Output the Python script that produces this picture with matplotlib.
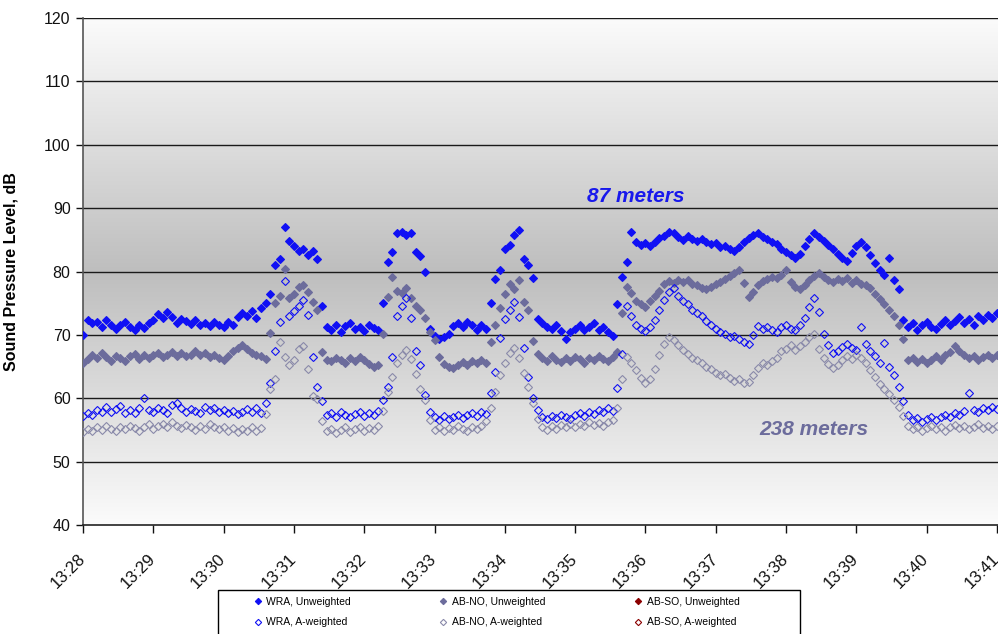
import numpy as np
import matplotlib
matplotlib.use('Agg')
import matplotlib.pyplot as plt
from matplotlib.patches import Rectangle
from matplotlib.lines import Line2D
from matplotlib.transforms import ScaledTranslation

plt.rcParams['font.family'] = ['Liberation Sans', 'DejaVu Sans']

# one reading every 4 seconds from 13:28:00
step_sec = 4
tick_labels = ['13:28', '13:29', '13:30', '13:31', '13:32', '13:33', '13:34',
               '13:35', '13:36', '13:37', '13:38', '13:39', '13:40', '13:41']

wra_unw = [
    70.0, 72.3, 71.8, 72.1, 71.2, 72.4, 71.6, 70.9, 71.5, 72.0, 71.3, 70.8, 71.6, 71.1, 71.9,
    72.4, 73.3, 72.6, 73.6, 72.8, 71.9, 72.5, 72.2, 71.7, 72.3, 71.6, 71.9, 71.4, 72.1, 71.5,
    71.3, 72.0, 71.6, 72.8, 73.4, 72.9, 73.7, 72.6, 74.2,
    75.0, 76.5, 81.0, 82.0, 87.0, 84.8, 84.0, 83.2, 83.5, 82.6, 83.3, 82.0, 74.5,
    71.2, 70.8, 71.6, 70.5, 71.4, 71.9, 70.9, 71.3, 70.6, 71.5, 71.1, 70.7,
    75.0, 81.5, 83.0, 86.0, 86.3, 85.8, 86.1, 83.0, 82.5, 80.0,
    71.0, 69.8, 69.3, 69.6, 70.2, 71.4, 71.9, 71.2, 72.0, 71.5, 70.8, 71.6, 70.9,
    75.0, 78.8, 80.3, 83.5, 84.2, 85.8, 86.6, 82.0, 81.0, 79.0, 72.5,
    71.8, 71.3, 70.9, 71.5, 70.6, 69.4, 70.4, 70.9, 71.6, 70.8, 71.3, 71.9, 70.7, 71.2, 70.5, 69.8,
    74.8, 79.2, 81.5, 86.3, 84.6, 84.2, 84.5, 84.0, 84.6, 85.3, 85.6, 86.2, 86.0, 85.4, 84.9, 85.6, 85.2,
    84.8, 85.1, 84.7, 84.3, 84.5, 83.9, 84.1, 83.6, 83.3, 83.8, 84.6, 85.3, 85.8, 86.0, 85.5,
    85.1, 84.6, 84.3, 83.6, 83.0, 82.6, 82.1, 82.8, 84.0, 85.2, 86.1, 85.4, 84.8, 84.2, 83.5,
    82.8, 82.2, 81.6, 82.9, 84.0, 84.6, 83.8, 82.6, 81.3, 80.2, 79.5, 82.1, 78.6, 77.2, 72.4,
    71.2, 71.9, 70.8, 71.6, 72.0, 71.3, 70.9, 71.7, 72.4, 71.5, 72.2, 72.8, 71.9, 72.5, 71.6,
    72.9, 72.3, 73.1, 72.6, 73.4,
]

abno_unw = [
    65.6, 66.2, 66.8, 66.4, 67.1, 66.5, 65.9, 66.7, 66.3, 65.8, 66.6, 67.0, 66.2, 66.9, 66.4,
    66.8, 67.2, 66.5, 66.9, 67.3, 66.7, 67.1, 66.6, 66.9, 67.4, 66.8, 67.2, 66.5, 66.9, 66.3,
    66.1, 66.7, 67.4, 68.0, 68.4, 67.8, 67.2, 66.9, 66.6,
    66.2, 70.3, 75.0, 76.2, 80.4, 75.8, 76.5, 77.6, 77.9, 76.8, 75.2, 74.0, 67.3,
    66.1, 65.8, 66.4, 66.0, 65.6, 66.3, 65.9, 66.5, 66.0, 65.4, 64.9, 65.3,
    70.2, 76.0, 79.2, 77.0, 76.6, 77.4, 75.8, 74.6, 74.0, 72.6, 70.5, 69.2,
    66.5, 65.4, 65.0, 64.8, 65.3, 65.7, 65.2, 65.8, 65.5, 66.0, 65.6,
    68.9, 71.5, 74.2, 76.5, 78.0, 77.3, 78.6, 75.2, 74.0, 69.0, 67.0,
    66.4, 65.9, 66.6, 66.1, 65.7, 66.3, 65.8, 66.5, 66.2, 65.6, 66.4, 66.0, 66.7, 66.2, 65.9, 66.5,
    67.3, 73.5, 77.5, 76.6, 75.4, 74.8, 74.4, 75.3, 76.2, 77.0, 78.0, 78.5, 78.2, 78.7, 78.3, 78.6, 78.0,
    77.8, 77.4, 77.2, 77.6, 78.0, 78.4, 78.8, 79.3, 79.8, 80.2, 78.2, 76.0, 76.8, 77.9, 78.5,
    78.8, 79.1, 78.9, 79.4, 80.2, 78.4, 77.5, 77.3, 77.8, 78.6, 79.3, 79.8, 79.2, 78.7, 78.3,
    78.8, 78.5, 78.9, 78.2, 78.6, 78.0, 77.8, 77.4, 76.5, 75.6, 74.8, 73.9, 73.0, 71.6, 69.4,
    66.0, 66.4, 65.7, 66.2, 65.5, 66.1, 66.6, 66.0, 66.8, 67.3, 68.2, 67.5, 66.9, 66.3, 66.7,
    66.1, 66.5, 66.9, 66.4, 66.8,
]

wra_aw = [
    57.2, 57.6, 57.4, 58.1, 57.8, 58.6, 57.9, 58.3, 58.8, 57.7, 58.2, 57.6, 58.4, 60.0, 58.1,
    57.9, 58.5, 58.2, 57.6, 58.9, 59.2, 58.4, 57.8, 58.3, 58.0, 57.7, 58.6, 58.1, 58.4, 57.9,
    58.2, 57.6, 58.0, 57.5, 57.9, 58.3, 57.8, 58.5, 57.7,
    59.3, 62.4, 67.5, 72.0, 78.5, 73.0, 73.8, 74.5, 75.5, 73.2, 66.5, 61.8, 59.5,
    57.3, 57.6, 57.1, 57.8, 57.4, 57.0, 57.5, 57.9, 57.2, 57.6, 57.3, 58.0,
    59.7, 61.8, 66.5, 73.0, 74.5, 75.8, 72.6, 67.5, 65.2, 60.5, 57.8,
    57.0, 56.6, 57.2, 56.8, 57.1, 57.4, 56.9, 57.3, 57.6, 57.2, 57.8, 57.5,
    60.8, 64.2, 69.5, 72.5, 74.0, 75.2, 72.8, 68.0, 63.4, 60.0, 58.2,
    57.0, 56.7, 57.2, 56.9, 57.4, 57.1, 56.8, 57.3, 57.6, 57.2, 57.8, 57.5, 58.1, 57.9, 58.4, 58.0,
    61.6, 67.0, 74.5, 73.0, 71.6, 71.0, 70.6, 71.2, 72.4, 74.0, 75.5, 76.8, 77.4, 76.2, 75.4, 74.8, 74.0,
    73.4, 73.0, 72.2, 71.6, 71.0, 70.4, 70.1, 69.6, 69.9, 69.4, 68.8, 68.6, 70.0, 71.4, 71.0,
    71.3, 70.8, 70.5, 71.2, 71.5, 71.0, 70.7, 71.6, 72.6, 74.4, 75.8, 73.6, 70.2, 68.4, 67.2,
    67.5, 68.1, 68.6, 68.0, 67.6, 71.3, 68.5, 67.4, 66.6, 65.6, 68.7, 65.0, 63.6, 61.8, 59.6,
    57.4, 56.5, 56.9, 56.3, 56.7, 57.0, 56.6, 57.1, 57.4, 57.0, 57.6, 57.3, 58.0, 60.8, 58.2,
    57.8, 58.4, 58.1, 58.6, 58.3,
]

abno_aw = [
    54.6, 55.1, 54.8, 55.4, 55.0, 55.6, 55.2, 54.9, 55.5, 55.1, 55.7, 55.3, 54.8, 55.4, 55.9,
    55.2, 55.6, 55.9, 55.4, 56.2, 55.7, 55.3, 55.8, 55.5, 55.0, 55.6, 55.2, 55.9, 55.4, 55.1,
    55.5, 54.9, 55.3, 54.7, 55.2, 54.8, 55.4, 54.9, 55.3,
    57.5, 61.5, 63.0, 68.8, 66.5, 65.2, 66.0, 67.8, 68.2, 64.6, 60.4, 59.9, 56.4,
    54.8, 55.2, 54.5, 55.0, 55.4, 54.7, 55.1, 55.5, 54.9, 55.3, 55.0, 55.6,
    58.0, 61.0, 63.4, 65.5, 66.8, 67.6, 66.2, 63.8, 61.5, 59.8, 56.5,
    55.0, 55.4, 54.8, 55.3, 55.0, 55.6, 55.2, 54.9, 55.5, 55.1, 55.7, 56.4,
    58.5, 61.0, 63.6, 65.5, 67.2, 68.0, 66.4, 64.0, 61.8, 59.2, 56.8,
    55.4, 55.0, 55.6, 55.2, 55.8, 55.4, 55.9, 55.5, 56.0, 55.6, 56.2, 55.8, 56.1, 55.7, 56.3, 56.6,
    58.5, 63.0, 66.5, 65.5, 64.4, 63.2, 62.4, 63.0, 64.6, 66.8, 68.6, 69.6, 69.2, 68.4, 67.6, 67.0, 66.4,
    66.0, 65.6, 65.0, 64.6, 64.0, 63.6, 63.8, 63.2, 62.8, 63.0, 62.4, 62.6, 63.6, 64.8, 65.6,
    65.2, 65.9, 66.4, 67.4, 67.8, 68.4, 67.6, 68.2, 68.9, 69.6, 70.2, 67.8, 66.4, 65.4, 64.8,
    65.2, 66.0, 66.6, 66.2, 66.8, 66.4, 65.6, 64.4, 63.4, 62.2, 61.4, 60.6, 59.8, 58.6, 57.2,
    55.6, 55.1, 55.4, 54.8, 55.3, 55.7, 55.2, 55.5, 54.9, 55.4, 55.8, 55.3, 55.6, 55.1, 55.5,
    55.9, 55.3, 55.7, 55.2, 55.6,
]

# AB-SO has no readings in the plotted window (legend only)
abso_unw = []
abso_aw = []

lengths = {len(wra_unw), len(abno_unw), len(wra_aw), len(abno_aw)}
assert len(lengths) == 1, (len(wra_unw), len(abno_unw), len(wra_aw), len(abno_aw))

def minutes(vals):
    return np.arange(len(vals)) * step_sec / 60.0

fig = plt.figure(figsize=(9.98, 6.34), dpi=100)
ax = fig.add_axes([83 / 998, 109 / 634, 915 / 998, 507 / 634])

# grey band gradient behind the plot area
frac = np.linspace(0, 1, 256)
shade = 0.985 - 0.24 * (1 - np.abs(frac - 0.5) * 2)
grad = np.dstack([shade, shade, shade]).reshape(256, 1, 3)
ax.imshow(grad, extent=[0, 1, 0, 1], transform=ax.transAxes, aspect='auto',
          origin='lower', zorder=0)

blue = '#1010f4'
slate = '#6c6c9c'
slate_light = '#8a8aaa'
red = '#8b0000'
ms = 4.0

series = [
    (wra_unw, 'WRA, Unweighted', blue, True),
    (abno_unw, 'AB-NO, Unweighted', slate, True),
    (abso_unw, 'AB-SO, Unweighted', red, True),
    (wra_aw, 'WRA, A-weighted', blue, False),
    (abno_aw, 'AB-NO, A-weighted', slate_light, False),
    (abso_aw, 'AB-SO, A-weighted', red, False),
]
handles = {}
for vals, label, col, filled in series:
    h, = ax.plot(minutes(vals), vals, linestyle='none', marker='D', markersize=ms,
                 markerfacecolor=col if filled else 'none', markeredgecolor=col,
                 markeredgewidth=0.8, label=label, zorder=3)
    handles[label] = h

ax.set_xlim(0, 13.015)
ax.set_ylim(40, 120)
ax.set_yticks(range(40, 121, 10))
for yv in range(50, 121, 10):
    ax.axhline(yv, color='#1a1a1a', linewidth=1.0, zorder=1)
ax.set_xticks(range(len(tick_labels)))
ax.set_xticklabels(tick_labels, rotation=45, ha='right', va='top', rotation_mode='anchor')
ax.tick_params(axis='x', direction='out', length=6, width=1, pad=13, labelsize=12, colors='#111111')
ax.tick_params(axis='y', direction='out', length=5, width=1, pad=4, labelsize=11.5, colors='#111111')
for lab in ax.get_xticklabels():
    lab.set_transform(lab.get_transform() + ScaledTranslation(-4 / 72, 0, fig.dpi_scale_trans))

ax.spines['right'].set_visible(False)
ax.spines['top'].set_visible(False)
ax.spines['left'].set_color('#555555')
ax.spines['left'].set_linewidth(1.2)
ax.spines['bottom'].set_color('#222222')
ax.spines['bottom'].set_linewidth(1.2)

ax.set_ylabel('Sound Pressure Level, dB', fontsize=11.5, fontweight='bold')
ax.yaxis.set_label_coords(-0.071, 0.5)

ax.text(7.866, 91.9, '87 meters', color='#1818ec', fontsize=15, fontweight='bold',
        fontstyle='italic', ha='center', va='center', zorder=4)
ax.text(10.40, 55.0, '238 meters', color='#6c6c9c', fontsize=15, fontweight='bold',
        fontstyle='italic', ha='center', va='center', zorder=4)

# legend box (runs off the bottom edge like the source)
fig.patches.append(Rectangle((218 / 998, -0.05), 582 / 998, 0.05 + 44 / 634,
                             transform=fig.transFigure, facecolor='white',
                             edgecolor='black', linewidth=1.0, clip_on=False))
order = ['WRA, Unweighted', 'WRA, A-weighted', 'AB-NO, Unweighted', 'AB-NO, A-weighted',
         'AB-SO, Unweighted', 'AB-SO, A-weighted']
leg_handles = []
for name in order:
    src = handles[name]
    leg_handles.append(Line2D([], [], linestyle='none', marker='D', markersize=3.2,
                              markerfacecolor=src.get_markerfacecolor(),
                              markeredgecolor=src.get_markeredgecolor(), markeredgewidth=0.8))
fig.legend(leg_handles, order, ncol=3, loc='upper left',
           bbox_to_anchor=(254 / 998, 1 - 597 / 634), frameon=False,
           fontsize=7.5, handlelength=0.7, handletextpad=0.5, columnspacing=8.5,
           labelspacing=1.0, borderpad=0, borderaxespad=0)

fig.savefig('out.png', dpi=100)
